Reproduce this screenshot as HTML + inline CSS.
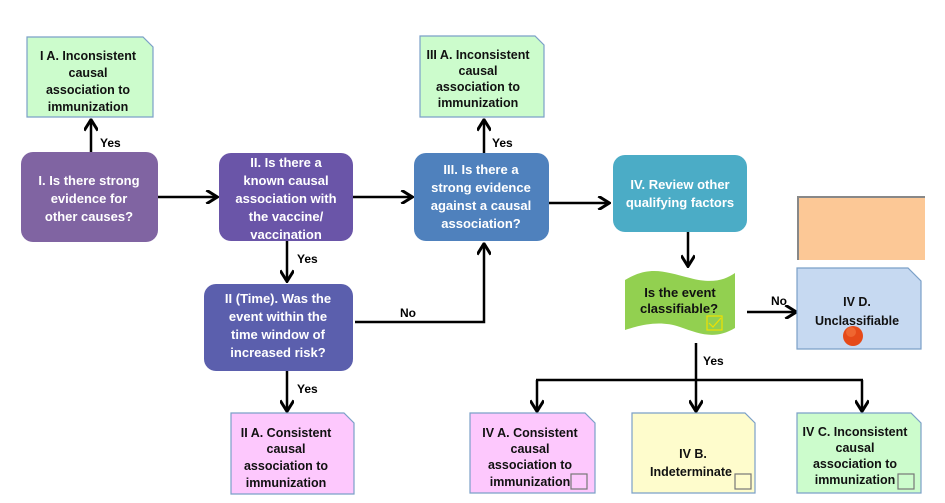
<!DOCTYPE html>
<html><head><meta charset="utf-8"><style>
html,body{margin:0;padding:0;background:#fff;}
svg{display:block;font-family:"Liberation Sans",sans-serif;font-weight:bold;}
.w{fill:#fff;font-size:13px;text-anchor:middle;}
.b{fill:#111;font-size:12.5px;text-anchor:middle;}
.l{fill:#000;font-size:12px;}
</style></head><body>
<svg width="945" height="503" viewBox="0 0 945 503">
<defs>
<marker id="a" viewBox="0 0 10 10" refX="8" refY="5" markerWidth="5.5" markerHeight="5.5" orient="auto"><path d="M1,0 L9,5 L1,10" fill="none" stroke="#000" stroke-width="2.2"/></marker>
</defs>
<g stroke="#000" stroke-width="2.5" fill="none" marker-end="url(#a)">
<line x1="91" y1="152" x2="91" y2="121"/>
<line x1="158" y1="197" x2="216" y2="197"/>
<line x1="353" y1="197" x2="411" y2="197"/>
<line x1="484" y1="153" x2="484" y2="121"/>
<line x1="549" y1="203" x2="608" y2="203"/>
<line x1="287" y1="241" x2="287" y2="280"/>
<line x1="287" y1="371" x2="287" y2="410"/>
<polyline points="355,322 484,322 484,245"/>
<line x1="688" y1="232" x2="688" y2="265"/>
<line x1="747" y1="312" x2="795" y2="312"/>
<line x1="537" y1="380" x2="537" y2="410"/>
<line x1="696" y1="343" x2="696" y2="410"/>
<line x1="862" y1="380" x2="862" y2="410"/>
</g>
<line x1="536" y1="380" x2="863" y2="380" stroke="#000" stroke-width="2.5"/>
<text class="l" x="100" y="147">Yes</text>
<text class="l" x="492" y="147">Yes</text>
<text class="l" x="297" y="263">Yes</text>
<text class="l" x="297" y="393">Yes</text>
<text class="l" x="400" y="317">No</text>
<text class="l" x="771" y="305">No</text>
<text class="l" x="703" y="365">Yes</text>

<rect x="21" y="152" width="137" height="90" rx="12" fill="#8064a2"/>
<text class="w" x="89" y="185">I. Is there strong</text><text class="w" x="89" y="203">evidence for</text><text class="w" x="89" y="221">other causes?</text>
<rect x="219" y="153" width="134" height="88" rx="12" fill="#6a55a8"/>
<text class="w" x="286" y="167">II. Is there a</text><text class="w" x="286" y="185">known causal</text><text class="w" x="286" y="203">association with</text><text class="w" x="286" y="221">the vaccine/</text><text class="w" x="286" y="239">vaccination</text>
<rect x="204" y="284" width="149" height="87" rx="12" fill="#5b5fad"/>
<text class="w" x="278" y="303">II (Time). Was the</text><text class="w" x="278" y="321">event within the</text><text class="w" x="278" y="339">time window of</text><text class="w" x="278" y="357">increased risk?</text>
<rect x="414" y="153" width="135" height="88" rx="12" fill="#4f81bd"/>
<text class="w" x="481" y="174">III. Is there a</text><text class="w" x="481" y="192">strong evidence</text><text class="w" x="481" y="210">against a causal</text><text class="w" x="481" y="228">association?</text>
<rect x="613" y="155" width="134" height="77" rx="12" fill="#4bacc6"/>
<text class="w" x="680" y="189">IV. Review other</text><text class="w" x="680" y="207">qualifying factors</text>

<path d="M625,280 C650,265 665,272 690,278 C712,284 725,280 735,273 L735,328 C715,340 700,334 680,327 C660,320 640,325 625,330 Z" fill="#92d050"/>
<text class="b" x="680" y="297" style="font-size:13px">Is the event</text><text class="b" x="679" y="313" style="font-size:13px">classifiable?</text>
<rect x="707" y="316" width="15" height="14" fill="none" stroke="#f0e000" stroke-width="1.2"/>
<path d="M709,323 L713,327 L721,318" fill="none" stroke="#f0e000" stroke-width="1.2"/>

<rect x="798" y="197" width="127" height="63" fill="#fcc896"/>
<path d="M798,260 V197 H925" fill="none" stroke="#888" stroke-width="2"/>

<g stroke-width="1.2">
<path d="M27,37 H143 L153,47 V117 H27 Z" fill="#ccfccc" stroke="#7ba0c8"/>
<path d="M420,36 H535 L544,45 V117 H420 Z" fill="#ccfccc" stroke="#7ba0c8"/>
<path d="M231,413 H344 L354,423 V494 H231 Z" fill="#fdc8fd" stroke="#7ba0c8"/>
<path d="M470,413 H585 L595,423 V493 H470 Z" fill="#fdc8fd" stroke="#7ba0c8"/>
<path d="M632,413 H745 L755,423 V493 H632 Z" fill="#fefccc" stroke="#7ba0c8"/>
<path d="M797,413 H911 L921,423 V493 H797 Z" fill="#ccfccc" stroke="#7ba0c8"/>
<path d="M797,268 H908 L921,281 V349 H797 Z" fill="#c6d9f1" stroke="#7ba0c8"/>
</g>
<text class="b" x="88" y="60">I A. Inconsistent</text><text class="b" x="88" y="77">causal</text><text class="b" x="88" y="94">association to</text><text class="b" x="88" y="111">immunization</text>
<text class="b" x="478" y="59">III A. Inconsistent</text><text class="b" x="478" y="75">causal</text><text class="b" x="478" y="91">association to</text><text class="b" x="478" y="107">immunization</text>
<text class="b" x="286" y="437">II A. Consistent</text><text class="b" x="286" y="453">causal</text><text class="b" x="286" y="470">association to</text><text class="b" x="286" y="487">immunization</text>
<text class="b" x="530" y="437">IV A. Consistent</text><text class="b" x="530" y="453">causal</text><text class="b" x="530" y="469">association to</text><text class="b" x="530" y="486">immunization</text>
<text class="b" x="693" y="458">IV B.</text><text class="b" x="691" y="476">Indeterminate</text>
<text class="b" x="855" y="436">IV C. Inconsistent</text><text class="b" x="855" y="452">causal</text><text class="b" x="855" y="468">association to</text><text class="b" x="855" y="484">immunization</text>
<text class="b" x="857" y="306">IV D.</text><text class="b" x="857" y="325">Unclassifiable</text>
<circle cx="853" cy="336" r="10" fill="#e64a19"/>
<circle cx="851" cy="332" r="5" fill="#f57a40" opacity="0.6"/>
<g fill="none" stroke="#777" stroke-width="1.2">
<rect x="571" y="474" width="16" height="15"/>
<rect x="735" y="474" width="16" height="15"/>
<rect x="898" y="474" width="16" height="15"/>
</g>
</svg>
</body></html>
